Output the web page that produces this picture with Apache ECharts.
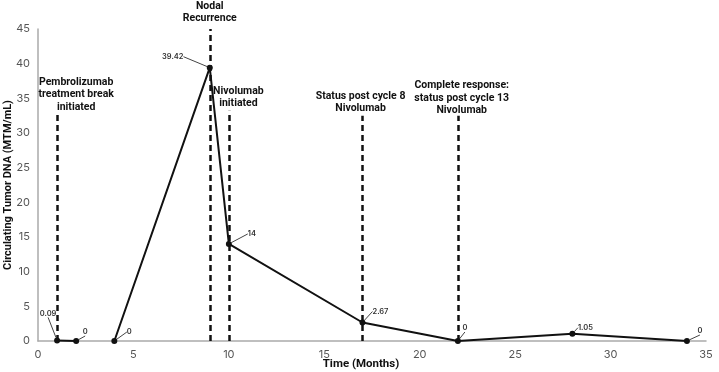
<!DOCTYPE html>
<html>
<head>
<meta charset="utf-8">
<script src="https://cdn.jsdelivr.net/npm/echarts@6/dist/echarts.min.js"></script>
<style>
  html, body { margin: 0; padding: 0; background: #fff; }
  #chart { width: 719px; height: 372px; }
</style>
</head>
<body>
<div id="chart"></div>
<script>
// months and ctDNA values (null = gap in the line)
const months = [1, 2, 3, 4, 9, 10, 17, 22, 28, 34];
const ctdna = [0.09, 0, null, 0, 39.42, 14, 2.67, 0, 1.05, 0];

// data label offsets from the point (dx, dy)
const labelDx = [-9, 9, 0, 15, -37, 23, 18, 7, 13, 13];
const labelDy = [-27, -9, 0, -9, -11, -10, -11, -13, -6, -10];

// event annotations: month of dashed line, top of line, text position
const eventMonth = [1, 9, 10, 17, 22];
const eventTop = [33, 45, 33.2, 32.5, 32.5];
const eventText = [
  "Pembrolizumab\ntreatment break\ninitiated",
  "Nodal\nRecurrence",
  "Nivolumab\ninitiated",
  "Status post cycle 8\nNivolumab",
  "Complete response:\nstatus post cycle 13\nNivolumab"
];
const eventTextX = [2, 9, 10.5, 16.9, 22.2];
const eventTextY = [32.7, 45, 33.2, 32.5, 32.2];

const xTicks = [0, 35, 5];
const yTicks = [0, 45, 5];

const chart = echarts.init(document.getElementById("chart"));

const lineData = months.map((m, i) => [m, ctdna[i] === null ? "-" : ctdna[i]]);

const option = {
  animation: false,
  grid: { left: 38, right: 13, top: 29, bottom: 31, outerBoundsMode: "none" },
  xAxis: {
    type: "value",
    min: xTicks[0],
    max: xTicks[1],
    interval: xTicks[2],
    name: "Time (Months)",
    nameLocation: "middle",
    nameGap: 17,
    nameMoveOverlap: false,
    nameTextStyle: {
      fontFamily: "Roboto",
      fontWeight: "bold",
      fontSize: 11.5,
      color: "#111",
      padding: [0, 22, 0, 0]
    },
    axisLine: { lineStyle: { color: "#aaa", width: 1.5 } },
    axisTick: { show: false },
    splitLine: { show: false },
    axisLabel: { color: "#555", fontSize: 11, fontFamily: "Inter", margin: 8 }
  },
  yAxis: {
    type: "value",
    min: yTicks[0],
    max: yTicks[1],
    interval: yTicks[2],
    name: "Circulating Tumor DNA (MTM/mL)",
    nameLocation: "middle",
    nameGap: 24,
    nameMoveOverlap: false,
    nameTextStyle: {
      fontFamily: "Roboto",
      fontWeight: "bold",
      fontSize: 11,
      color: "#111"
    },
    axisLine: { show: true, lineStyle: { color: "#aaa", width: 1.5 } },
    axisTick: { show: false },
    splitLine: { show: false },
    axisLabel: { color: "#555", fontSize: 11, fontFamily: "Inter", margin: 8 }
  },
  series: [
    {
      type: "line",
      data: lineData,
      connectNulls: false,
      clip: false,
      symbol: "circle",
      symbolSize: 6,
      itemStyle: { color: "#111" },
      lineStyle: { color: "#111", width: 2 },
      label: {
        show: true,
        position: "inside",
        color: "#333",
        fontSize: 7.5,
        fontFamily: "Inter",
        fontWeight: 600
      },
      labelLine: { show: true, lineStyle: { color: "#444", width: 1 } },
      labelLayout: (p) => ({ dx: labelDx[p.dataIndex], dy: labelDy[p.dataIndex] }),
      markLine: {
        silent: true,
        symbol: "none",
        label: { show: false },
        lineStyle: { color: "#111", width: 2.5, type: [6, 4] },
        data: eventMonth.map((m, i) => [{ coord: [m, 0] }, { coord: [m, eventTop[i]] }])
      },
      markPoint: {
        silent: true,
        symbol: "circle",
        symbolSize: 0,
        label: {
          show: true,
          position: "top",
          distance: 1,
          color: "#111",
          fontFamily: "Roboto",
          fontWeight: "bold",
          fontSize: 10.5,
          lineHeight: 12.5,
          align: "center"
        },
        data: eventText.map((t, i) => ({
          coord: [eventTextX[i], eventTextY[i]],
          value: t,
          label: { formatter: t, distance: i === 1 ? 4 : 1 }
        }))
      }
    }
  ]
};

chart.setOption(option);
</script>
</body>
</html>
